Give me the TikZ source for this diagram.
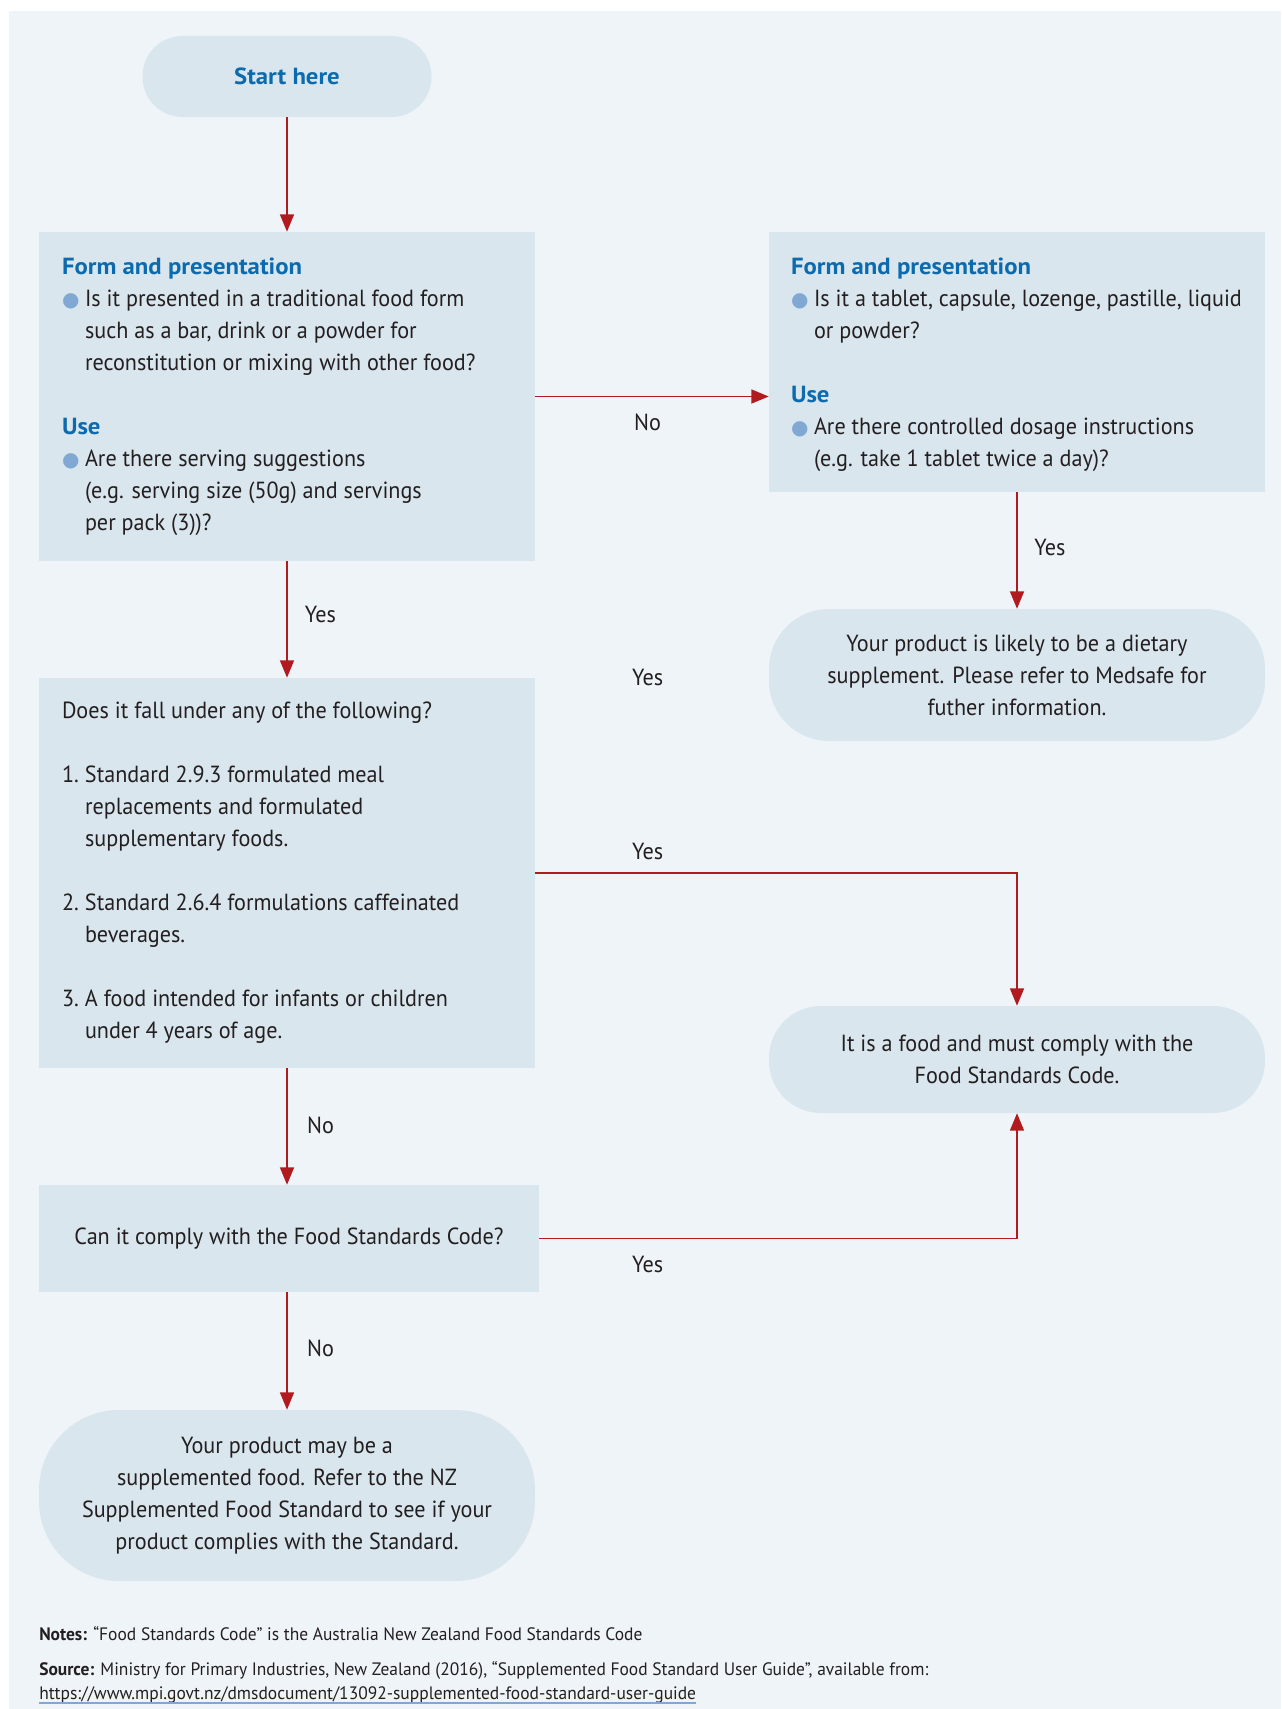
\documentclass[tikz,border=0pt]{standalone}
\usepackage{fontspec}
\setmainfont{PT Sans}[FakeStretch=0.95]
\newfontfamily\hdfont{PT Sans}[FakeStretch=1.06]
\newfontfamily\footfont{PT Sans}[FakeStretch=0.97]
\newfontfamily\symfont{DejaVu Sans}
\usetikzlibrary{arrows.meta}
\definecolor{panel}{HTML}{EFF4F9}
\definecolor{boxfill}{HTML}{DAE6EE}
\definecolor{titleblue}{HTML}{0C6BAE}
\definecolor{arrowred}{HTML}{B11A1F}
\definecolor{bulletblue}{HTML}{7FA8D2}
\definecolor{ink}{HTML}{231F20}
\newcommand{\bul}{\makebox[17.25pt][l]{\textcolor{bulletblue}{\symfont\fontsize{15pt}{15pt}\selectfont ●}}}
\newcommand{\ind}{\hspace*{17.25pt}}
\newcommand{\num}[1]{\makebox[17.25pt][l]{#1}}
\newcommand{\hd}[1]{{\hdfont\bfseries\color{titleblue}#1}}
\tikzset{
  box/.style={fill=boxfill, draw=none, inner sep=0pt, minimum width=372pt},
  pill/.style={box, align=center, text=ink, font=\fontsize{17.5}{24}\selectfont},
  qtext/.style={align=left, inner sep=0pt, text=ink, font=\fontsize{17.5}{24}\selectfont},
  arr/.style={draw=arrowred, line width=1.1pt, -{Triangle[length=13pt,width=10.5pt]}},
  lbl/.style={inner sep=0pt, text=ink, font=\fontsize{17.5}{24}\selectfont},
  foot/.style={inner sep=0pt, text=ink, font=\footfont\fontsize{13.5}{16}\selectfont},
}
\begin{document}
\begin{tikzpicture}[x=0.75pt,y=-0.75pt]
\useasboundingbox (0,0) rectangle (1281,1709);
\fill[white] (0,0) rectangle (1281,1709);
\fill[panel] (9,11) rectangle (1281,1709);

% nodes
\node[box, minimum width=216.75pt, minimum height=60.75pt, rounded corners=30pt,
      font=\hdfont\fontsize{17.5}{24}\selectfont\bfseries, text=titleblue] (start) at (287,76.5) {Start here};

\node[box, minimum height=246.75pt] (box1) at (287,396.5) {};
\node[qtext, anchor=west] (t1) at ([xshift=17.25pt]box1.west) {%
\hd{Form and presentation}\\
\bul Is it presented in a traditional food form\\
\ind such as a bar, drink or a powder for\\
\ind reconstitution or mixing with other food?\\[24pt]
\hd{Use}\\
\bul Are there serving suggestions\\
\ind (e.g. serving size (50g) and servings\\
\ind per pack (3))?};

\node[box, minimum height=195pt] (box2) at (1017,362) {};
\node[qtext, anchor=west] (t2) at ([xshift=16.5pt,yshift=-2pt]box2.west) {%
\hd{Form and presentation}\\
\bul Is it a tablet, capsule, lozenge, pastille, liquid\\
\ind or powder?\\[24pt]
\hd{Use}\\
\bul Are there controlled dosage instructions\\
\ind (e.g. take 1 tablet twice a day)?};

\node[pill, minimum height=99pt, rounded corners=45pt] (pill1) at (1017,675)
  {Your product is likely to be a dietary\\ supplement. Please refer to Medsafe for\\ futher information.};

\node[box, minimum height=292.5pt] (box3) at (287,873) {};
\node[qtext, anchor=west] (t3) at ([xshift=17.25pt]box3.west) {%
Does it fall under any of the following?\\[24pt]
\num{1.}Standard 2.9.3 formulated meal\\
\ind replacements and formulated\\
\ind supplementary foods.\\[24pt]
\num{2.}Standard 2.6.4 formulations caffeinated\\
\ind beverages.\\[24pt]
\num{3.}A food intended for infants or children\\
\ind under 4 years of age.};

\node[pill, minimum height=80.25pt, rounded corners=39pt] (pill2) at (1017,1059.5)
  {It is a food and must comply with the\\ Food Standards Code.};

\node[box, minimum width=375pt, minimum height=80.25pt, text=ink, font=\fontsize{17.5}{24}\selectfont] (box4) at (289,1238.5)
  {Can it comply with the Food Standards Code?};

\node[pill, minimum height=128.25pt, rounded corners=60pt] (pill3) at (287,1495.5)
  {Your product may be a\\ supplemented food. Refer to the NZ\\ Supplemented Food Standard to see if your\\ product complies with the Standard.};

% connectors
\draw[arr] (start.south) -- (box1.north);
\draw[arr] (box1.east) -- (box1.east -| box2.west);
\draw[arr] (box2.south) -- (pill1.north);
\draw[arr] (box1.south) -- (box3.north);
\draw[arr] (box3.east) -| (pill2.north);
\draw[arr] (box3.south) -- (box3.south |- box4.north);
\draw[arr] (box4.east) -| (pill2.south);
\draw[arr] (box3.south |- box4.south) -- (pill3.north);

% labels
\node[lbl] (l1) at (647.6,422) {No};
\node[lbl] (l2) at (1050,547) {Yes};
\node[lbl] (l3) at (320.5,614) {Yes};
\node[lbl] (l4) at (647.6,677) {Yes};
\node[lbl] (l5) at (647.6,851.5) {Yes};
\node[lbl] (l6) at (320.5,1125) {No};
\node[lbl] (l7) at (647.6,1264.6) {Yes};
\node[lbl] (l8) at (320.5,1348.6) {No};

% footer
\node[foot, anchor=base west] (notes) at (39,1640) {\textbf{Notes:} “Food Standards Code” is the Australia New Zealand Food Standards Code};
\node[foot, anchor=base west] (source) at (39,1675) {\textbf{Source:} Ministry for Primary Industries, New Zealand (2016), “Supplemented Food Standard User Guide”, available from:};
\node[foot, anchor=base west] (url) at (39,1699) {https://www.mpi.govt.nz/dmsdocument/13092-supplemented-food-standard-user-guide};
\draw[bulletblue, line width=0.8pt] ([yshift=-3pt]url.base west) -- ([yshift=-3pt]url.base east);
\end{tikzpicture}
\end{document}
